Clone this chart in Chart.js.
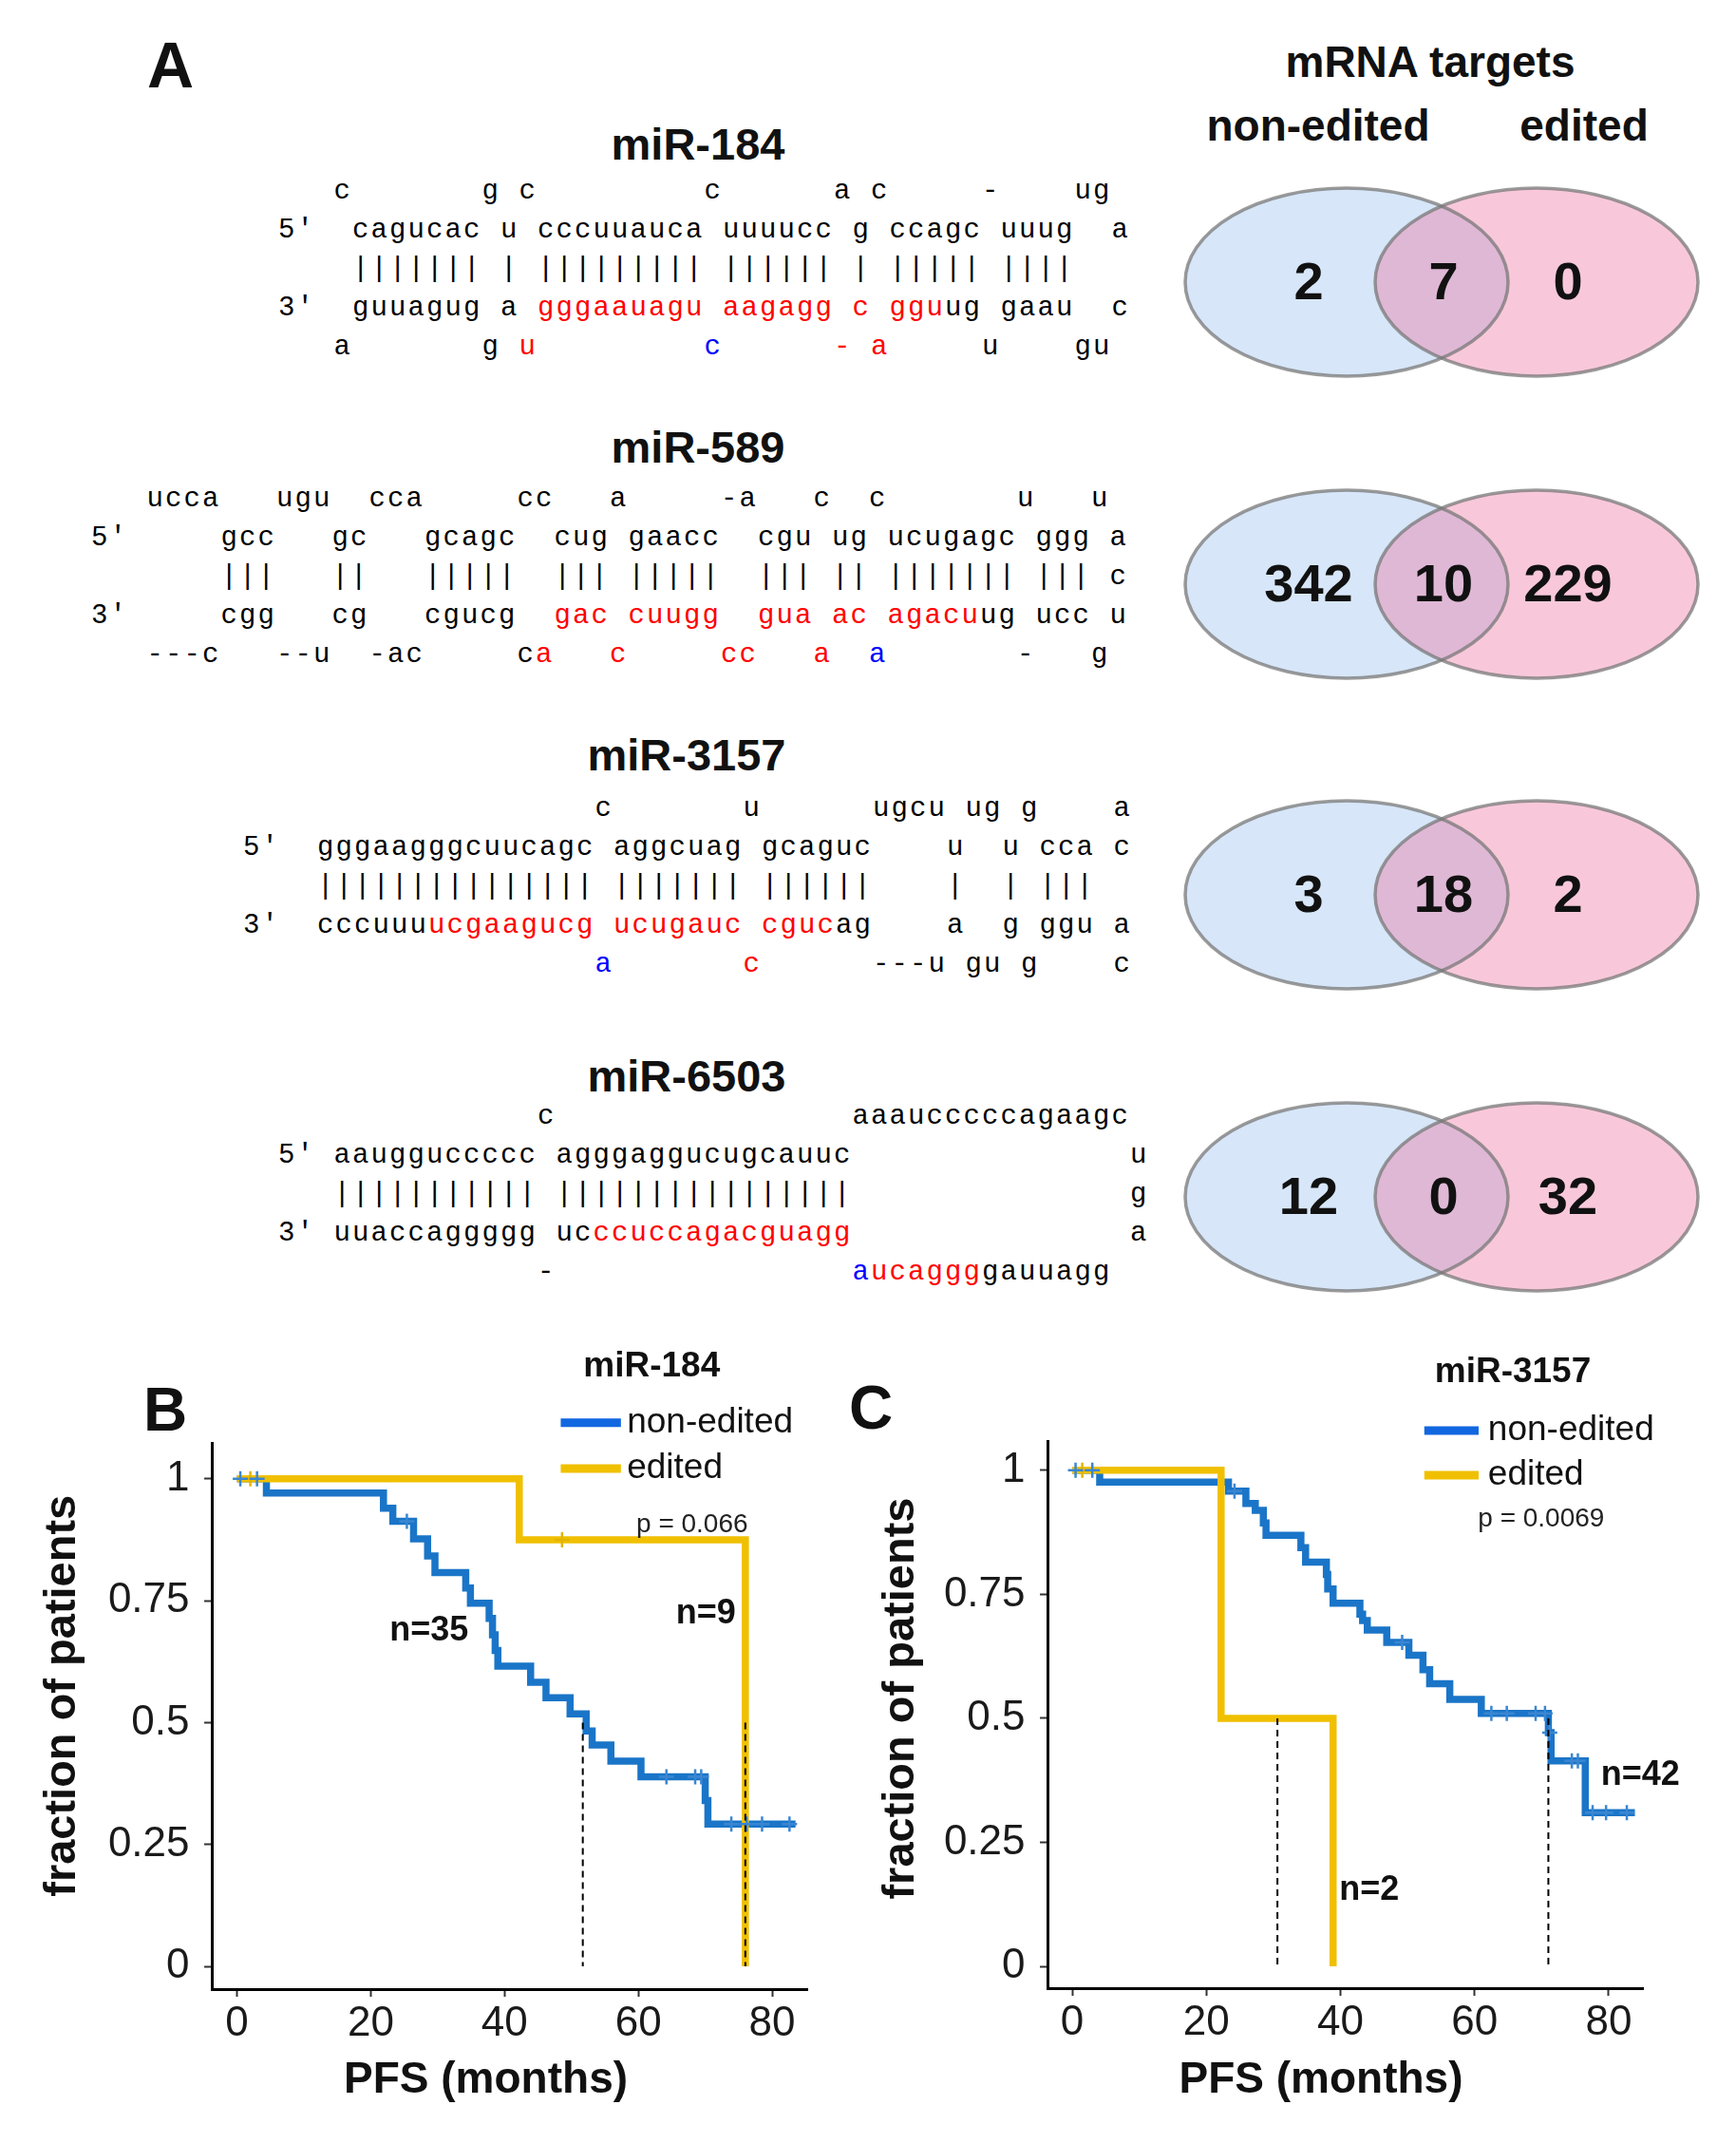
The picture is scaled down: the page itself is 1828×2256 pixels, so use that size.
<!DOCTYPE html>
<html>
<head>
<meta charset="utf-8">
<script src="https://cdn.jsdelivr.net/npm/chart.js@4.4.0/dist/chart.umd.min.js"></script>
<style>
  body { margin: 0; background: #fff; }
  #fig { position: relative; width: 1828px; height: 2256px; overflow: hidden;
         font-family: "Liberation Sans", Arial, sans-serif; color: #111; }
  .txt { position: absolute; line-height: 1; white-space: nowrap; }
  .ctr { text-align: center; width: 600px; }
  .seq { position: absolute; }
  .seq .row { position: relative; height: 41px; }
  .seq span { position: absolute; top: 0; font-family: "Liberation Mono", monospace; font-size: 29px;
              letter-spacing: 2.1px; line-height: 41px; white-space: pre; color: #000; }
  .seq span.r { color: #ff0000; }
  .seq span.b { color: #0000ff; }
  canvas { position: absolute; }
</style>
</head>
<body>
<div id="fig">
  <div class="txt" style="left:155px;top:34px;font-size:68px;font-weight:bold;">A</div>

  <div class="txt ctr" style="left:1206px;top:42px;font-size:46px;font-weight:bold;">mRNA targets</div>
  <div class="txt ctr" style="left:1088px;top:109px;font-size:46px;font-weight:bold;">non-edited</div>
  <div class="txt ctr" style="left:1368px;top:109px;font-size:46px;font-weight:bold;">edited</div>

  <div class="txt ctr" style="left:435px;top:128px;font-size:47px;font-weight:bold;">miR-184</div>
  <div class="txt ctr" style="left:435px;top:447px;font-size:47px;font-weight:bold;">miR-589</div>
  <div class="txt ctr" style="left:423px;top:771px;font-size:47px;font-weight:bold;">miR-3157</div>
  <div class="txt ctr" style="left:423px;top:1109px;font-size:47px;font-weight:bold;">miR-6503</div>

  <div class="seq" id="seq184" style="left:293px;top:181px;"></div>
  <div class="seq" id="seq589" style="left:96px;top:505px;"></div>
  <div class="seq" id="seq3157" style="left:256px;top:831px;"></div>
  <div class="seq" id="seq6503" style="left:293px;top:1155px;"></div>

  <canvas id="venn0" width="580" height="240" style="left:1230px;top:177px;"></canvas>
  <canvas id="venn1" width="580" height="240" style="left:1230px;top:495px;"></canvas>
  <canvas id="venn2" width="580" height="240" style="left:1230px;top:822px;"></canvas>
  <canvas id="venn3" width="580" height="240" style="left:1230px;top:1140px;"></canvas>

  <canvas id="kmB" width="880" height="840" style="left:0px;top:1400px;"></canvas>
  <canvas id="kmC" width="920" height="840" style="left:880px;top:1400px;"></canvas>

  <div class="txt" style="left:151px;top:1452px;font-size:64px;font-weight:bold;">B</div>
  <div class="txt" style="left:894px;top:1450px;font-size:64px;font-weight:bold;">C</div>
</div>

<script>
// ---- panel A: duplex rows, [column, text, colour] ----
const bars = n => '|'.repeat(n);

const seq184 = [
  [[3,'c'],[11,'g'],[13,'c'],[23,'c'],[30,'a'],[32,'c'],[38,'-'],[43,'ug']],
  [[0,"5'"],[4,'cagucac'],[12,'u'],[14,'cccuuauca'],[24,'uuuucc'],[31,'g'],[33,'ccagc'],[39,'uuug'],[45,'a']],
  [[4,bars(7)],[12,bars(1)],[14,bars(9)],[24,bars(6)],[31,bars(1)],[33,bars(5)],[39,bars(4)]],
  [[0,"3'"],[4,'guuagug'],[12,'a'],[14,'gggaauagu','r'],[24,'aagagg','r'],[31,'c','r'],[33,'ggu','r'],[36,'ug'],[39,'gaau'],[45,'c']],
  [[3,'a'],[11,'g'],[13,'u','r'],[23,'c','b'],[30,'-','r'],[32,'a','r'],[38,'u'],[43,'gu']]
];
const seq589 = [
  [[3,'ucca'],[10,'ugu'],[15,'cca'],[23,'cc'],[28,'a'],[34,'-a'],[39,'c'],[42,'c'],[50,'u'],[54,'u']],
  [[0,"5'"],[7,'gcc'],[13,'gc'],[18,'gcagc'],[25,'cug'],[29,'gaacc'],[36,'cgu'],[40,'ug'],[43,'ucugagc'],[51,'ggg'],[55,'a']],
  [[7,bars(3)],[13,bars(2)],[18,bars(5)],[25,bars(3)],[29,bars(5)],[36,bars(3)],[40,bars(2)],[43,bars(7)],[51,bars(3)],[55,'c']],
  [[0,"3'"],[7,'cgg'],[13,'cg'],[18,'cgucg'],[25,'gac','r'],[29,'cuugg','r'],[36,'gua','r'],[40,'ac','r'],[43,'agacu','r'],[48,'ug'],[51,'ucc'],[55,'u']],
  [[3,'---c'],[10,'--u'],[15,'-ac'],[23,'c'],[24,'a','r'],[28,'c','r'],[34,'cc','r'],[39,'a','r'],[42,'a','b'],[50,'-'],[54,'g']]
];
const seq3157 = [
  [[19,'c'],[27,'u'],[34,'ugcu'],[39,'ug'],[42,'g'],[47,'a']],
  [[0,"5'"],[4,'gggaagggcuucagc'],[20,'aggcuag'],[28,'gcaguc'],[38,'u'],[41,'u'],[43,'cca'],[47,'c']],
  [[4,bars(15)],[20,bars(7)],[28,bars(6)],[38,bars(1)],[41,bars(1)],[43,bars(3)]],
  [[0,"3'"],[4,'cccuuu'],[10,'ucgaagucg','r'],[20,'ucugauc','r'],[28,'cguc','r'],[32,'ag'],[38,'a'],[41,'g'],[43,'ggu'],[47,'a']],
  [[19,'a','b'],[27,'c','r'],[34,'---u'],[39,'gu'],[42,'g'],[47,'c']]
];
const seq6503 = [
  [[14,'c'],[31,'aaaucccccagaagc']],
  [[0,"5'"],[3,'aaugguccccc'],[15,'agggaggucugcauuc'],[46,'u']],
  [[3,bars(11)],[15,bars(16)],[46,'g']],
  [[0,"3'"],[3,'uuaccaggggg'],[15,'uc'],[17,'ccuccagacguagg','r'],[46,'a']],
  [[14,'-'],[31,'a','b'],[32,'ucaggg','r'],[38,'gauuagg']]
];

// ---- panel A: Venn counts (non-edited only, shared, edited only) ----
const vennNonEditedOnly = [2, 342, 3, 12];
const vennShared = [7, 10, 18, 0];
const vennEditedOnly = [0, 229, 2, 32];

// ---- panels B / C: Kaplan-Meier steps (months, fraction) ----
const xTicks = [0, 20, 40, 60, 80];
const yTicks = [0, 0.25, 0.5, 0.75, 1];
const yTickLabels = ['0', '0.25', '0.5', '0.75', '1'];
const legendLabels = ['non-edited', 'edited'];
const xAxisTitle = 'PFS (months)';
const yAxisTitle = 'fraction of patients';

const bNonEditedTime = [0, 4.4, 21.9, 23.3, 26.4, 28.5, 29.6, 34.2, 34.9, 37.7, 38.2, 38.6, 39.0, 43.9, 46.2, 49.8, 52.2, 53.1, 55.9, 60.4, 70.0, 70.4, 83.5];
const bNonEditedSurv = [1, 0.971, 0.940, 0.913, 0.877, 0.842, 0.808, 0.776, 0.745, 0.714, 0.680, 0.648, 0.616, 0.583, 0.551, 0.518, 0.483, 0.454, 0.421, 0.389, 0.340, 0.292, 0.292];
const bNonEditedCensor = [0.5, 3.0, 25.4, 64.2, 68.5, 69.4, 73.9, 76.2, 78.5, 82.6];
const bEditedTime = [0, 42.2, 76.0];
const bEditedSurv = [1, 0.875, 0];
const bEditedCensor = [2.0, 48.6];
const bMedians = [51.7, 76.0];

const cNonEditedTime = [0, 4.1, 23.3, 25.9, 27.3, 28.5, 28.9, 34.1, 34.8, 37.9, 38.1, 38.9, 42.9, 43.3, 44.0, 46.9, 50.2, 52.3, 53.3, 56.3, 61.0, 71.0, 71.4, 76.5, 83.9];
const cNonEditedSurv = [1, 0.976, 0.958, 0.933, 0.919, 0.894, 0.869, 0.844, 0.815, 0.790, 0.761, 0.732, 0.710, 0.697, 0.678, 0.653, 0.627, 0.598, 0.570, 0.538, 0.510, 0.471, 0.414, 0.310, 0.310];
const cNonEditedCensor = [0.5, 3.0, 24.2, 49.2, 62.5, 64.8, 69.1, 70.5, 71.2, 74.5, 75.4, 77.6, 79.6, 82.7];
const cEditedTime = [0, 22.2, 38.9];
const cEditedSurv = [1, 0.5, 0];
const cEditedCensor = [1.5];
const cMedians = [30.6, 71.0];

const BLUE = '#1a75c8';
const YELLOW = '#f0c000';
const FONT = '"Liberation Sans", Arial, sans-serif';

Chart.defaults.font.family = FONT;
Chart.defaults.color = '#111';

// ---- render duplexes ----
function renderSeq(id, rows) {
  const el = document.getElementById(id);
  rows.forEach(row => {
    const div = document.createElement('div');
    div.className = 'row';
    row.forEach(([col, text, cls]) => {
      const s = document.createElement('span');
      s.textContent = text;
      if (cls) s.className = cls;
      s.style.left = (col * 19.5) + 'px';
      div.appendChild(s);
    });
    el.appendChild(div);
  });
}
renderSeq('seq184', seq184);
renderSeq('seq589', seq589);
renderSeq('seq3157', seq3157);
renderSeq('seq6503', seq6503);

// ---- Venn diagrams ----
function vennShapes(counts) {
  return {
    id: 'vennShapes',
    beforeDatasetsDraw(chart) {
      const { ctx, scales: { x, y } } = chart;
      const cy = y.getPixelForValue(0);
      const ry = Math.abs(y.getPixelForValue(0.99) - cy);
      const rx = x.getPixelForValue(1.7) - x.getPixelForValue(0);
      ctx.save();
      [-1, 1].forEach((c, i) => {
        ctx.beginPath();
        ctx.ellipse(x.getPixelForValue(c), cy, rx, ry, 0, 0, Math.PI * 2);
        ctx.fillStyle = i ? 'rgba(236,106,155,0.37)' : '#d7e6f8';
        ctx.fill();
      });
      ctx.strokeStyle = 'rgba(120,120,120,0.75)';
      ctx.lineWidth = 3.5;
      [-1, 1].forEach(c => {
        ctx.beginPath();
        ctx.ellipse(x.getPixelForValue(c), cy, rx, ry, 0, 0, Math.PI * 2);
        ctx.stroke();
      });
      ctx.restore();
    },
    afterDatasetsDraw(chart) {
      const { ctx } = chart;
      ctx.save();
      ctx.font = 'bold 56px ' + FONT;
      ctx.fillStyle = '#111';
      ctx.textAlign = 'center';
      ctx.textBaseline = 'middle';
      chart.getDatasetMeta(0).data.forEach((pt, i) => {
        ctx.fillText(String(counts[i]), pt.x, pt.y + 3);
      });
      ctx.restore();
    }
  };
}

vennShared.forEach((shared, k) => {
  const counts = [vennNonEditedOnly[k], shared, vennEditedOnly[k]];
  new Chart(document.getElementById('venn' + k), {
    type: 'scatter',
    data: { datasets: [{ data: [{ x: -1.4, y: 0 }, { x: 0.02, y: 0 }, { x: 1.33, y: 0 }], pointRadius: 0 }] },
    options: {
      responsive: false, animation: false,
      layout: { padding: 0 },
      scales: { x: { display: false, min: -2.88, max: 2.92 }, y: { display: false, min: -1.2, max: 1.2 } },
      plugins: { legend: { display: false }, tooltip: { enabled: false } }
    },
    plugins: [vennShapes(counts)]
  });
});

// ---- Kaplan-Meier ----
function survAt(times, surv, t) {
  let s = surv[0];
  times.forEach((tt, i) => { if (tt <= t) s = surv[i]; });
  return s;
}

function kmNotes(notes) {
  return {
    id: 'kmNotes',
    afterDraw(chart) {
      const { ctx, scales: { x, y } } = chart;
      ctx.save();
      notes.lines.forEach(l => {
        ctx.strokeStyle = l.color;
        ctx.lineWidth = 9;
        ctx.beginPath();
        ctx.moveTo(x.getPixelForValue(l.x1), y.getPixelForValue(l.y));
        ctx.lineTo(x.getPixelForValue(l.x2), y.getPixelForValue(l.y));
        ctx.stroke();
      });
      notes.texts.forEach(t => {
        ctx.save();
        ctx.font = t.font;
        ctx.fillStyle = t.color || '#111';
        ctx.textAlign = t.align || 'center';
        ctx.textBaseline = 'middle';
        ctx.translate(x.getPixelForValue(t.x), y.getPixelForValue(t.y));
        if (t.rotate) ctx.rotate(-Math.PI / 2);
        ctx.fillText(t.text, 0, 0);
        ctx.restore();
      });
      ctx.restore();
    }
  };
}

function buildKM(id, d) {
  const line = (times, surv, color, width) => ({
    data: times.map((t, i) => ({ x: t, y: surv[i] })),
    stepped: 'before', borderColor: color, borderWidth: width,
    pointRadius: 0, fill: false, borderCapStyle: 'butt', borderJoinStyle: 'miter'
  });
  const censor = (marks, times, surv, color) => ({
    data: marks.map(t => ({ x: t, y: survAt(times, surv, t) })),
    showLine: false, pointStyle: 'cross', pointRadius: 8, pointBorderWidth: 2.5,
    pointBorderColor: color, borderColor: color
  });
  const medians = d.medians.map(m => ({
    data: [{ x: m, y: 0.5 }, { x: m, y: 0 }],
    borderColor: '#000', borderWidth: 2, borderDash: [7, 5], pointRadius: 0, fill: false
  }));

  return new Chart(document.getElementById(id), {
    type: 'line',
    data: {
      datasets: [
        ...medians,
        censor(d.neCensor, d.neTime, d.neSurv, '#3a86d2'),
        censor(d.edCensor, d.edTime, d.edSurv, '#e3b400'),
        line(d.edTime, d.edSurv, YELLOW, 7.5),
        line(d.neTime, d.neSurv, BLUE, 7.5)
      ]
    },
    options: {
      responsive: false, animation: false,
      layout: { padding: { left: 98.4, top: d.top, right: d.right, bottom: d.bottom } },
      scales: {
        x: {
          type: 'linear', min: d.xMin, max: d.xMax,
          afterBuildTicks: s => { s.ticks = xTicks.map(v => ({ value: v })); },
          grid: { drawOnChartArea: false, drawTicks: true, tickLength: 8, tickWidth: 2, tickColor: '#333' },
          border: { color: '#000', width: 3 },
          ticks: { font: { size: 44 }, color: '#1a1a1a', padding: 2, maxRotation: 0, autoSkip: false }
        },
        y: {
          type: 'linear', min: d.yMin, max: d.yMax,
          afterBuildTicks: s => { s.ticks = yTicks.map(v => ({ value: v })); },
          grid: { drawOnChartArea: false, drawTicks: true, tickLength: 8, tickWidth: 2, tickColor: '#333' },
          border: { color: '#000', width: 3 },
          ticks: { font: { size: 44 }, color: '#1a1a1a', padding: 15.5, autoSkip: false,
                   callback: v => yTickLabels[yTicks.indexOf(v)] }
        }
      },
      plugins: { legend: { display: false }, tooltip: { enabled: false } }
    },
    plugins: [kmNotes(d.notes)]
  });
}

buildKM('kmB', {
  neTime: bNonEditedTime, neSurv: bNonEditedSurv, neCensor: bNonEditedCensor,
  edTime: bEditedTime, edSurv: bEditedSurv, edCensor: bEditedCensor, medians: bMedians,
  xMin: -3.76, xMax: 85.25, yMin: -0.0466, yMax: 1.0738,
  top: 119, right: 30, bottom: 81.2,
  notes: {
    lines: [
      { x1: 48.4, x2: 57.4, y: 1.115, color: '#1167e0' },
      { x1: 48.4, x2: 57.4, y: 1.021, color: YELLOW }
    ],
    texts: [
      { text: 'miR-184', x: 62.0, y: 1.231, font: 'bold 37px ' + FONT },
      { text: legendLabels[0], x: 58.3, y: 1.115, align: 'left', font: '37px ' + FONT },
      { text: legendLabels[1], x: 58.3, y: 1.021, align: 'left', font: '37px ' + FONT },
      { text: 'p = 0.066', x: 59.7, y: 0.905, align: 'left', font: '28px ' + FONT, color: '#222' },
      { text: 'n=35', x: 28.7, y: 0.687, font: 'bold 36px ' + FONT },
      { text: 'n=9', x: 70.1, y: 0.722, font: 'bold 36px ' + FONT },
      { text: xAxisTitle, x: 37.2, y: -0.235, font: 'bold 46px ' + FONT },
      { text: yAxisTitle, x: -26.0, y: 0.555, rotate: true, font: 'bold 47px ' + FONT }
    ]
  }
});

buildKM('kmC', {
  neTime: cNonEditedTime, neSurv: cNonEditedSurv, neCensor: cNonEditedCensor,
  edTime: cEditedTime, edSurv: cEditedSurv, edCensor: cEditedCensor, medians: cMedians,
  xMin: -3.68, xMax: 85.1, yMin: -0.0439, yMax: 1.059,
  top: 117, right: 70, bottom: 82.2,
  notes: {
    lines: [
      { x1: 52.5, x2: 60.6, y: 1.080, color: '#1167e0' },
      { x1: 52.5, x2: 60.6, y: 0.990, color: YELLOW }
    ],
    texts: [
      { text: 'miR-3157', x: 65.7, y: 1.197, font: 'bold 37px ' + FONT },
      { text: legendLabels[0], x: 62.0, y: 1.080, align: 'left', font: '37px ' + FONT },
      { text: legendLabels[1], x: 62.0, y: 0.990, align: 'left', font: '37px ' + FONT },
      { text: 'p = 0.0069', x: 60.5, y: 0.901, align: 'left', font: '28px ' + FONT, color: '#222' },
      { text: 'n=42', x: 84.7, y: 0.385, font: 'bold 36px ' + FONT },
      { text: 'n=2', x: 44.3, y: 0.153, font: 'bold 36px ' + FONT },
      { text: xAxisTitle, x: 37.1, y: -0.231, font: 'bold 46px ' + FONT },
      { text: yAxisTitle, x: -25.5, y: 0.540, rotate: true, font: 'bold 47px ' + FONT }
    ]
  }
});
</script>
</body>
</html>
